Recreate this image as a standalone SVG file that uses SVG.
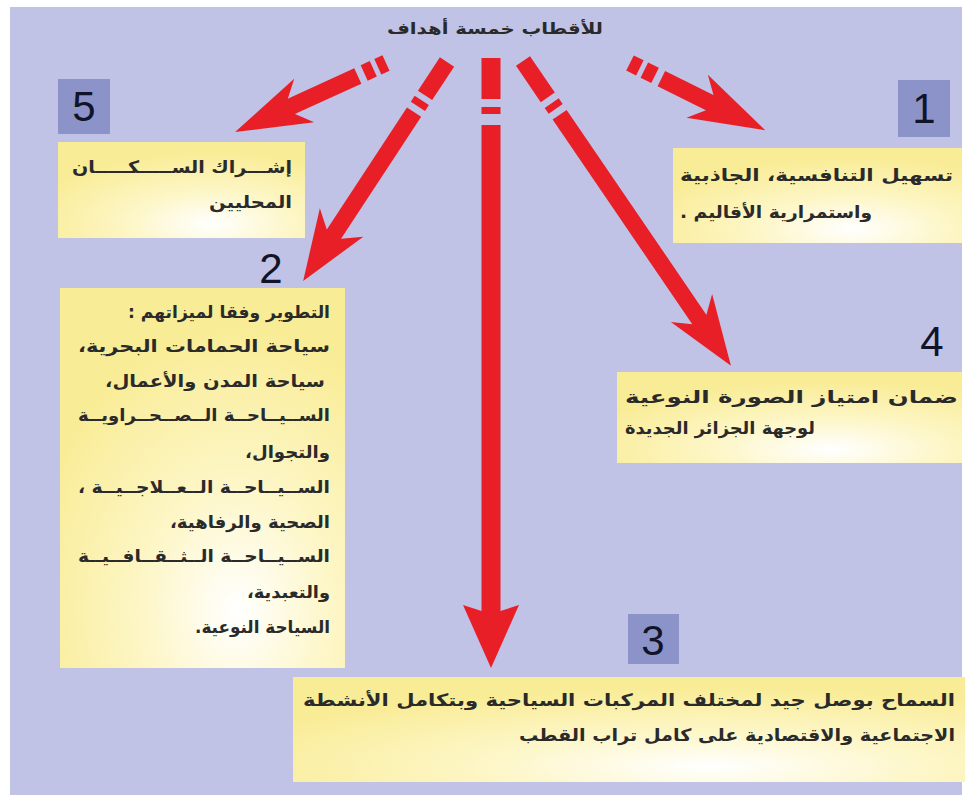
<svg xmlns="http://www.w3.org/2000/svg" width="971" height="798" viewBox="0 0 971 798">
<style>
.bg{fill:#c0c3e6}
.box{fill:url(#yg)}
.sq{fill:#8b93c9}
.num{font-family:"Liberation Sans",Arial,sans-serif;font-size:42px;fill:#111428;text-anchor:middle}
.t{font-family:"DejaVu Sans","Noto Sans",sans-serif;font-size:17px;font-weight:bold;fill:#2a2a2a;direction:rtl;text-anchor:start}
.title{font-family:"DejaVu Sans","Noto Sans",sans-serif;font-size:16px;font-weight:bold;fill:#2a2a2a;text-anchor:start;direction:rtl}
.ar{fill:#e81f26}
</style>
<defs>
<radialGradient id="yg" cx="0.62" cy="0.85" r="0.75">
<stop offset="0" stop-color="#ffffff"/>
<stop offset="0.45" stop-color="#fdf6c6"/>
<stop offset="1" stop-color="#f9ec96"/>
</radialGradient>
</defs>
<rect x="0" y="0" width="971" height="798" fill="#ffffff"/>
<rect class="bg" x="10" y="7" width="952" height="788"/>
<text class="title" x="603" y="34" textLength="216" lengthAdjust="spacingAndGlyphs">للأقطاب خمسة أهداف</text>

<g id="connectors">
<g transform="translate(491,58) rotate(90)">
<rect class="ar" x="0" y="-9.5" width="41" height="19"/>
<rect class="ar" x="49" y="-9.5" width="7" height="19"/>
<rect class="ar" x="67" y="-9.5" width="488" height="19"/>
<polygon class="ar" points="610,0 547,-28 553,-9.5 553,9.5 547,28"/>
</g>
<g transform="translate(523,61) rotate(55.7)">
<rect class="ar" x="0" y="-8.5" width="44" height="17"/>
<rect class="ar" x="51" y="-8.5" width="7" height="17"/>
<rect class="ar" x="65" y="-8.5" width="250" height="17"/>
<polygon class="ar" points="369,0 299,-25 313,-8.5 313,8.5 299,25"/>
</g>
<g transform="translate(447,62) rotate(123.3)">
<rect class="ar" x="0" y="-8.5" width="40" height="17"/>
<rect class="ar" x="46" y="-8.5" width="7" height="17"/>
<rect class="ar" x="60" y="-8.5" width="148" height="17"/>
<polygon class="ar" points="262,0 192,-26 206,-8.5 206,8.5 192,26"/>
</g>
<g transform="translate(386,63) rotate(155.4)">
<rect class="ar" x="0" y="-8.5" width="9" height="17"/>
<rect class="ar" x="14" y="-8.5" width="10" height="17"/>
<rect class="ar" x="31" y="-8.5" width="75" height="17"/>
<polygon class="ar" points="166,0 90,-24 104,-8.5 104,8.5 90,24"/>
</g>
<g transform="translate(630,63) rotate(26.4)">
<rect class="ar" x="0" y="-8.5" width="11" height="17"/>
<rect class="ar" x="16" y="-8.5" width="12" height="17"/>
<rect class="ar" x="35" y="-8.5" width="55" height="17"/>
<polygon class="ar" points="151,0 75,-24 89,-8.5 89,8.5 75,24"/>
</g>
</g>

<g id="node5">
<rect class="sq" x="58" y="79" width="52" height="55"/>
<text class="num" x="84" y="121">5</text>
<rect class="box" x="58" y="142" width="247" height="96"/>
<text class="t" x="292" y="173" textLength="220" lengthAdjust="spacingAndGlyphs">إشـــراك الســـــكـــــان</text>
<text class="t" x="292" y="208" textLength="83" lengthAdjust="spacingAndGlyphs">المحليين</text>
</g>

<g id="node1">
<rect class="sq" x="898" y="80" width="52" height="57"/>
<text class="num" x="924" y="123">1</text>
<rect class="box" x="673" y="148" width="289" height="95"/>
<text class="t" x="953" y="181" textLength="273" lengthAdjust="spacingAndGlyphs">تسهيل التنافسية، الجاذبية</text>
<text class="t" x="872" y="218" textLength="192" lengthAdjust="spacingAndGlyphs">واستمرارية الأقاليم .</text>
</g>

<g id="node2">
<text class="num" x="271" y="283">2</text>
<rect class="box" x="60" y="288" width="285" height="380"/>
<text class="t" x="330" y="318" textLength="202" lengthAdjust="spacingAndGlyphs">التطوير وفقا لميزاتهم :</text>
<text class="t" x="330" y="352" textLength="252" lengthAdjust="spacingAndGlyphs">سياحة الحمامات البحرية،</text>
<text class="t" x="325" y="387" textLength="220" lengthAdjust="spacingAndGlyphs">سياحة المدن والأعمال،</text>
<text class="t" x="330" y="421" textLength="252" lengthAdjust="spacingAndGlyphs">الســيــاحــة الــصــحــراويــة</text>
<text class="t" x="330" y="458" textLength="85" lengthAdjust="spacingAndGlyphs">والتجوال،</text>
<text class="t" x="330" y="493" textLength="252" lengthAdjust="spacingAndGlyphs">الســيــاحــة الــعــلاجــيــة ،</text>
<text class="t" x="330" y="528" textLength="160" lengthAdjust="spacingAndGlyphs">الصحية والرفاهية،</text>
<text class="t" x="330" y="562" textLength="252" lengthAdjust="spacingAndGlyphs">الســيــاحــة الــثــقــافــيــة</text>
<text class="t" x="330" y="598" textLength="83" lengthAdjust="spacingAndGlyphs">والتعبدية،</text>
<text class="t" x="330" y="633" textLength="135" lengthAdjust="spacingAndGlyphs">السياحة النوعية.</text>
</g>

<g id="node4">
<text class="num" x="932" y="356">4</text>
<rect class="box" x="617" y="372" width="345" height="91"/>
<text class="t" x="958" y="403" textLength="333" lengthAdjust="spacingAndGlyphs">ضمان امتياز الصورة النوعية</text>
<text class="t" x="815" y="434" textLength="190" lengthAdjust="spacingAndGlyphs">لوجهة الجزائر الجديدة</text>
</g>

<g id="node3">
<rect class="sq" x="628" y="614" width="51" height="50"/>
<text class="num" x="653" y="655">3</text>
<rect class="box" x="293" y="677" width="672" height="105"/>
<text class="t" x="955" y="706" textLength="652" lengthAdjust="spacingAndGlyphs">السماح بوصل جيد لمختلف المركبات السياحية وبتكامل الأنشطة</text>
<text class="t" x="955" y="741" textLength="436" lengthAdjust="spacingAndGlyphs">الاجتماعية والاقتصادية على كامل تراب القطب</text>
</g>
</svg>
